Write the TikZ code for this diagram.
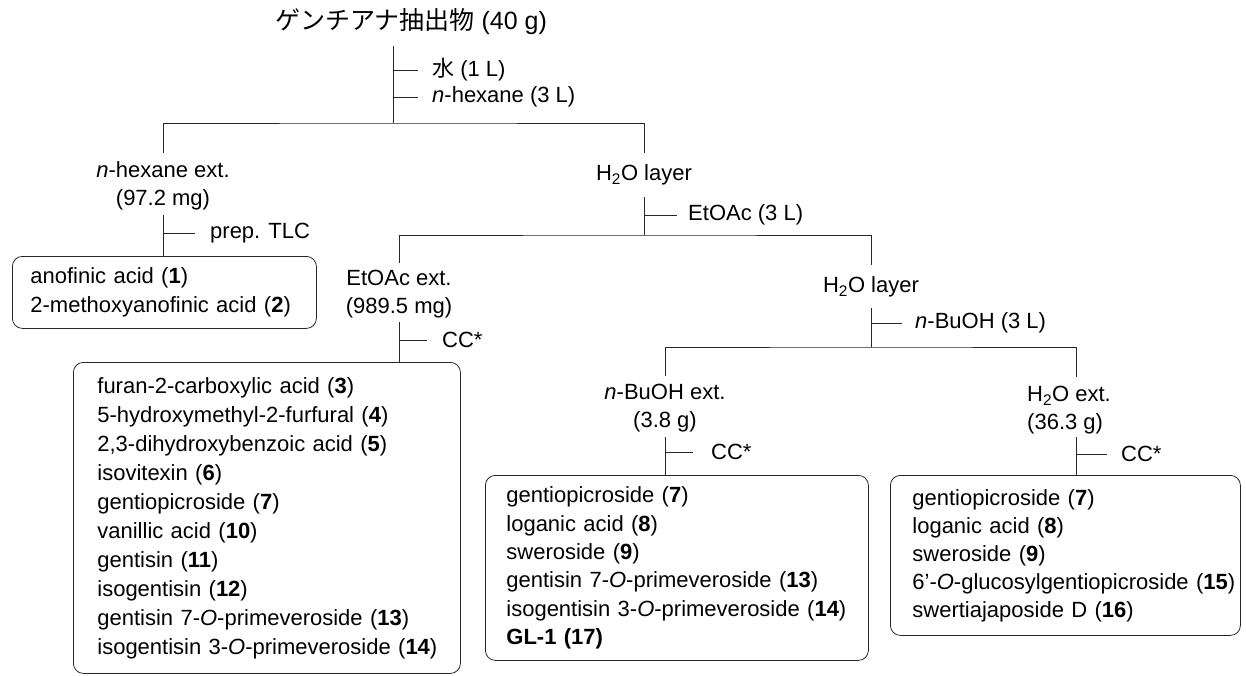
\documentclass[tikz,border=0pt]{standalone}
\usepackage{fontspec}
\setmainfont{Liberation Sans}
\newfontfamily\cjk{Noto Sans CJK JP}
\newcommand\oneline[1]{\mbox{#1}}
\tikzset{
  ln/.style={line width=0.8pt, draw=black!85},
  lbl/.style={font=\fontsize{22}{28}\selectfont, inner sep=0pt},
  cbox/.style={draw=black!85, line width=0.8pt, rounded corners=10pt, anchor=north west,
    align=left, font=\fontsize{22}{29}\selectfont, inner ysep=0pt},
}
\begin{document}
\begin{tikzpicture}[x=1pt,y=-1pt]
\useasboundingbox (0,0) rectangle (1246,676);

% title
\node[inner sep=0pt, font=\fontsize{25}{30}\selectfont] (title) at (411,22) {{\cjk ゲンチアナ抽出物} (40 g)};

% first split
\node[lbl, anchor=west] (water) at (432,70) {{\cjk 水} (1 L)};
\node[lbl, anchor=west] (hexsolv) at (432,97) {\textit{n}-hexane (3 L)};
\coordinate (s0) at (393,46);
\coordinate (j0) at (393,123);
\coordinate (L1) at (163,153);
\coordinate (R1) at (644,153);
\draw[ln] (s0) -- (j0);
\draw[ln] (water.west -| j0) -- ([xshift=-14pt]water.west);
\draw[ln] (hexsolv.west -| j0) -- ([xshift=-14pt]hexsolv.west);
\draw[ln] (L1) |- (j0) -| (R1);

% n-hexane branch
\node[lbl, align=center] (hexext) at (163,186) {\textit{n}-hexane ext.\\(97.2 mg)};
\node[lbl, anchor=west] (tlc) at (210,233) {prep. TLC};
\coordinate (h1) at (163,215);
\node[cbox, minimum width=304pt, minimum height=72pt, inner xsep=18pt, text width=268pt] (box1) at (12,256)
  {\oneline{anofinic acid (\textbf{1})}\\\oneline{2-methoxyanofinic acid (\textbf{2})}};
\draw[ln] (h1) -- (h1 |- box1.north);
\draw[ln] (tlc.west -| h1) -- ([xshift=-15pt]tlc.west);

% H2O layer 1
\node[lbl] (h2o1) at (644,175) {H\textsubscript{2}O layer};
\node[lbl, anchor=west] (etsolv) at (688,215) {EtOAc (3 L)};
\coordinate (w1) at (644,197);
\coordinate (j1) at (644,235);
\coordinate (L2) at (399,263);
\coordinate (R2) at (871,265);
\draw[ln] (w1) -- (j1);
\draw[ln] (etsolv.west -| w1) -- ([xshift=-11pt]etsolv.west);
\draw[ln] (L2) |- (j1) -| (R2);

% EtOAc branch
\node[lbl, align=center] (etext) at (399,294) {EtOAc ext.\\(989.5 mg)};
\node[lbl, anchor=west] (cc1) at (442,340) {CC*};
\coordinate (e1) at (399,322);
\node[cbox, minimum width=387pt, minimum height=311pt, inner xsep=24pt, text width=339pt] (box2) at (73,362)
  {\oneline{furan-2-carboxylic acid (\textbf{3})}\\
   \oneline{5-hydroxymethyl-2-furfural (\textbf{4})}\\
   \oneline{2,3-dihydroxybenzoic acid (\textbf{5})}\\
   \oneline{isovitexin (\textbf{6})}\\
   \oneline{gentiopicroside (\textbf{7})}\\
   \oneline{vanillic acid (\textbf{10})}\\
   \oneline{gentisin (\textbf{11})}\\
   \oneline{isogentisin (\textbf{12})}\\
   \oneline{gentisin 7-\textit{O}-primeveroside (\textbf{13})}\\
   \oneline{isogentisin 3-\textit{O}-primeveroside (\textbf{14})}};
\draw[ln] (e1) -- (e1 |- box2.north);
\draw[ln] (cc1.west -| e1) -- ([xshift=-15pt]cc1.west);

% H2O layer 2
\node[lbl] (h2o2) at (871,287) {H\textsubscript{2}O layer};
\node[lbl, anchor=west] (busolv) at (915,323) {\textit{n}-BuOH (3 L)};
\coordinate (w2) at (871,308);
\coordinate (j2) at (871,347);
\coordinate (L3) at (665,376);
\coordinate (R3) at (1076,377);
\draw[ln] (w2) -- (j2);
\draw[ln] (busolv.west -| w2) -- ([xshift=-13pt]busolv.west);
\draw[ln] (L3) |- (j2) -| (R3);

% n-BuOH branch
\node[lbl, align=center] (buext) at (665,408) {\textit{n}-BuOH ext.\\(3.8 g)};
\node[lbl, anchor=west] (cc2) at (711,452) {CC*};
\coordinate (b1) at (665,437);
\node[cbox, minimum width=383pt, minimum height=185pt, inner xsep=21pt, text width=341pt, font=\fontsize{22}{28.3}\selectfont] (box3) at (485,475)
  {\oneline{gentiopicroside (\textbf{7})}\\
   \oneline{loganic acid (\textbf{8})}\\
   \oneline{sweroside (\textbf{9})}\\
   \oneline{gentisin 7-\textit{O}-primeveroside (\textbf{13})}\\
   \oneline{isogentisin 3-\textit{O}-primeveroside (\textbf{14})}\\
   \oneline{\textbf{GL-1 (17)}}};
\draw[ln] (b1) -- (b1 |- box3.north);
\draw[ln] (cc2.west -| b1) -- ([xshift=-18pt]cc2.west);

% H2O ext branch
\node[lbl, align=left, anchor=west] (wext) at (1027,410) {H\textsubscript{2}O ext.\\(36.3 g)};
\node[lbl, anchor=west] (cc3) at (1121,454) {CC*};
\coordinate (x1) at (1076,437);
\node[cbox, minimum width=350pt, minimum height=160pt, inner xsep=22pt, text width=306pt, font=\fontsize{22}{28}\selectfont] (box4) at (890,475)
  {\oneline{gentiopicroside (\textbf{7})}\\
   \oneline{loganic acid (\textbf{8})}\\
   \oneline{sweroside (\textbf{9})}\\
   \oneline{6’-\textit{O}-glucosylgentiopicroside (\textbf{15})}\\
   \oneline{swertiajaposide D (\textbf{16})}};
\draw[ln] (x1) -- (x1 |- box4.north);
\draw[ln] (cc3.west -| x1) -- ([xshift=-14pt]cc3.west);
\end{tikzpicture}
\end{document}
